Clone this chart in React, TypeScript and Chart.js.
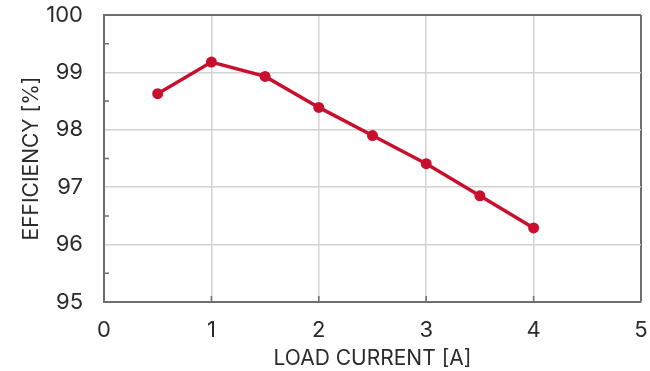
import React, { useEffect, useRef } from "react";
import { Chart, registerables } from "chart.js";

Chart.register(...registerables);

const loadCurrent = [0.5, 1.0, 1.5, 2.0, 2.5, 3.0, 3.5, 4.0];
const efficiency = [98.63, 99.18, 98.93, 98.39, 97.9, 97.41, 96.85, 96.29];
const xMinorTicks = [1, 2, 3, 4];
const yMinorTicks = [95.5, 96.5, 97.5, 98.5, 99.5];

const FONT = "Inter, 'DejaVu Sans', sans-serif";
const LINE_RED = "#C8102E";
const AXIS_DARK = "#6e6e6e";
const GRID_LIGHT = "#d2d2d2";
const TEXT = "#2b2b2b";

const innerTicks = {
  id: "innerTicks",
  beforeDatasetsDraw(chart: any) {
    const { ctx, chartArea, scales } = chart;
    ctx.save();
    ctx.strokeStyle = AXIS_DARK;
    ctx.lineWidth = 1.5;
    ctx.beginPath();
    for (const v of yMinorTicks) {
      const y = scales.y.getPixelForValue(v);
      ctx.moveTo(chartArea.left, y);
      ctx.lineTo(chartArea.left + 5, y);
    }
    for (const v of xMinorTicks) {
      const x = scales.x.getPixelForValue(v);
      ctx.moveTo(x, chartArea.bottom);
      ctx.lineTo(x, chartArea.bottom - 6);
    }
    ctx.stroke();
    ctx.restore();
  },
};

export default function App() {
  const ref = useRef<HTMLCanvasElement | null>(null);

  useEffect(() => {
    if (!ref.current) return;
    const chart = new Chart(ref.current, {
      type: "line",
      data: {
        datasets: [
          {
            data: loadCurrent.map((x, i) => ({ x, y: efficiency[i] })),
            borderColor: LINE_RED,
            backgroundColor: LINE_RED,
            borderWidth: 3.5,
            pointRadius: 5.5,
            pointHoverRadius: 5.5,
            pointBorderWidth: 0,
            tension: 0,
          },
        ],
      },
      options: {
        responsive: false,
        animation: false,
        layout: { autoPadding: false, padding: { left: 0, right: 9, top: 15, bottom: 0 } },
        plugins: { legend: { display: false }, tooltip: { enabled: false } },
        scales: {
          x: {
            type: "linear",
            min: 0,
            max: 5,
            ticks: {
              stepSize: 1,
              color: TEXT,
              font: { family: FONT, size: 22 },
              padding: 15,
            },
            grid: {
              drawTicks: false,
              color: (c: any) => (c.tick && c.tick.value === 5 ? AXIS_DARK : GRID_LIGHT),
              lineWidth: (c: any) => (c.tick && c.tick.value === 5 ? 2 : 1.5),
            },
            border: { display: true, color: AXIS_DARK, width: 2 },
            title: {
              display: true,
              text: "LOAD CURRENT [A]",
              color: TEXT,
              font: { family: FONT, size: 21 },
              padding: { top: 0, bottom: 0 },
            },
            afterFit: (s: any) => {
              s.height = 69;
              s.paddingLeft = 0;
              s.paddingRight = 0;
            },
          },
          y: {
            min: 95,
            max: 100,
            ticks: {
              stepSize: 1,
              color: TEXT,
              font: { family: FONT, size: 22 },
              padding: 21,
            },
            grid: {
              drawTicks: false,
              color: (c: any) => (c.tick && c.tick.value === 100 ? AXIS_DARK : GRID_LIGHT),
              lineWidth: (c: any) => (c.tick && c.tick.value === 100 ? 2 : 1.5),
            },
            border: { display: true, color: AXIS_DARK, width: 2 },
            title: {
              display: true,
              text: "EFFICIENCY [%]",
              color: TEXT,
              font: { family: FONT, size: 21 },
              padding: { top: 19, bottom: 0 },
            },
            afterFit: (s: any) => {
              s.width = 104;
              s.paddingTop = 0;
              s.paddingBottom = 0;
            },
          },
        },
      },
      plugins: [innerTicks],
    });
    return () => chart.destroy();
  }, []);

  return (
    <div style={{ position: "fixed", left: 0, top: 0, width: 650, height: 371, background: "#fff" }}>
      <canvas ref={ref} width={650} height={371} />
    </div>
  );
}
